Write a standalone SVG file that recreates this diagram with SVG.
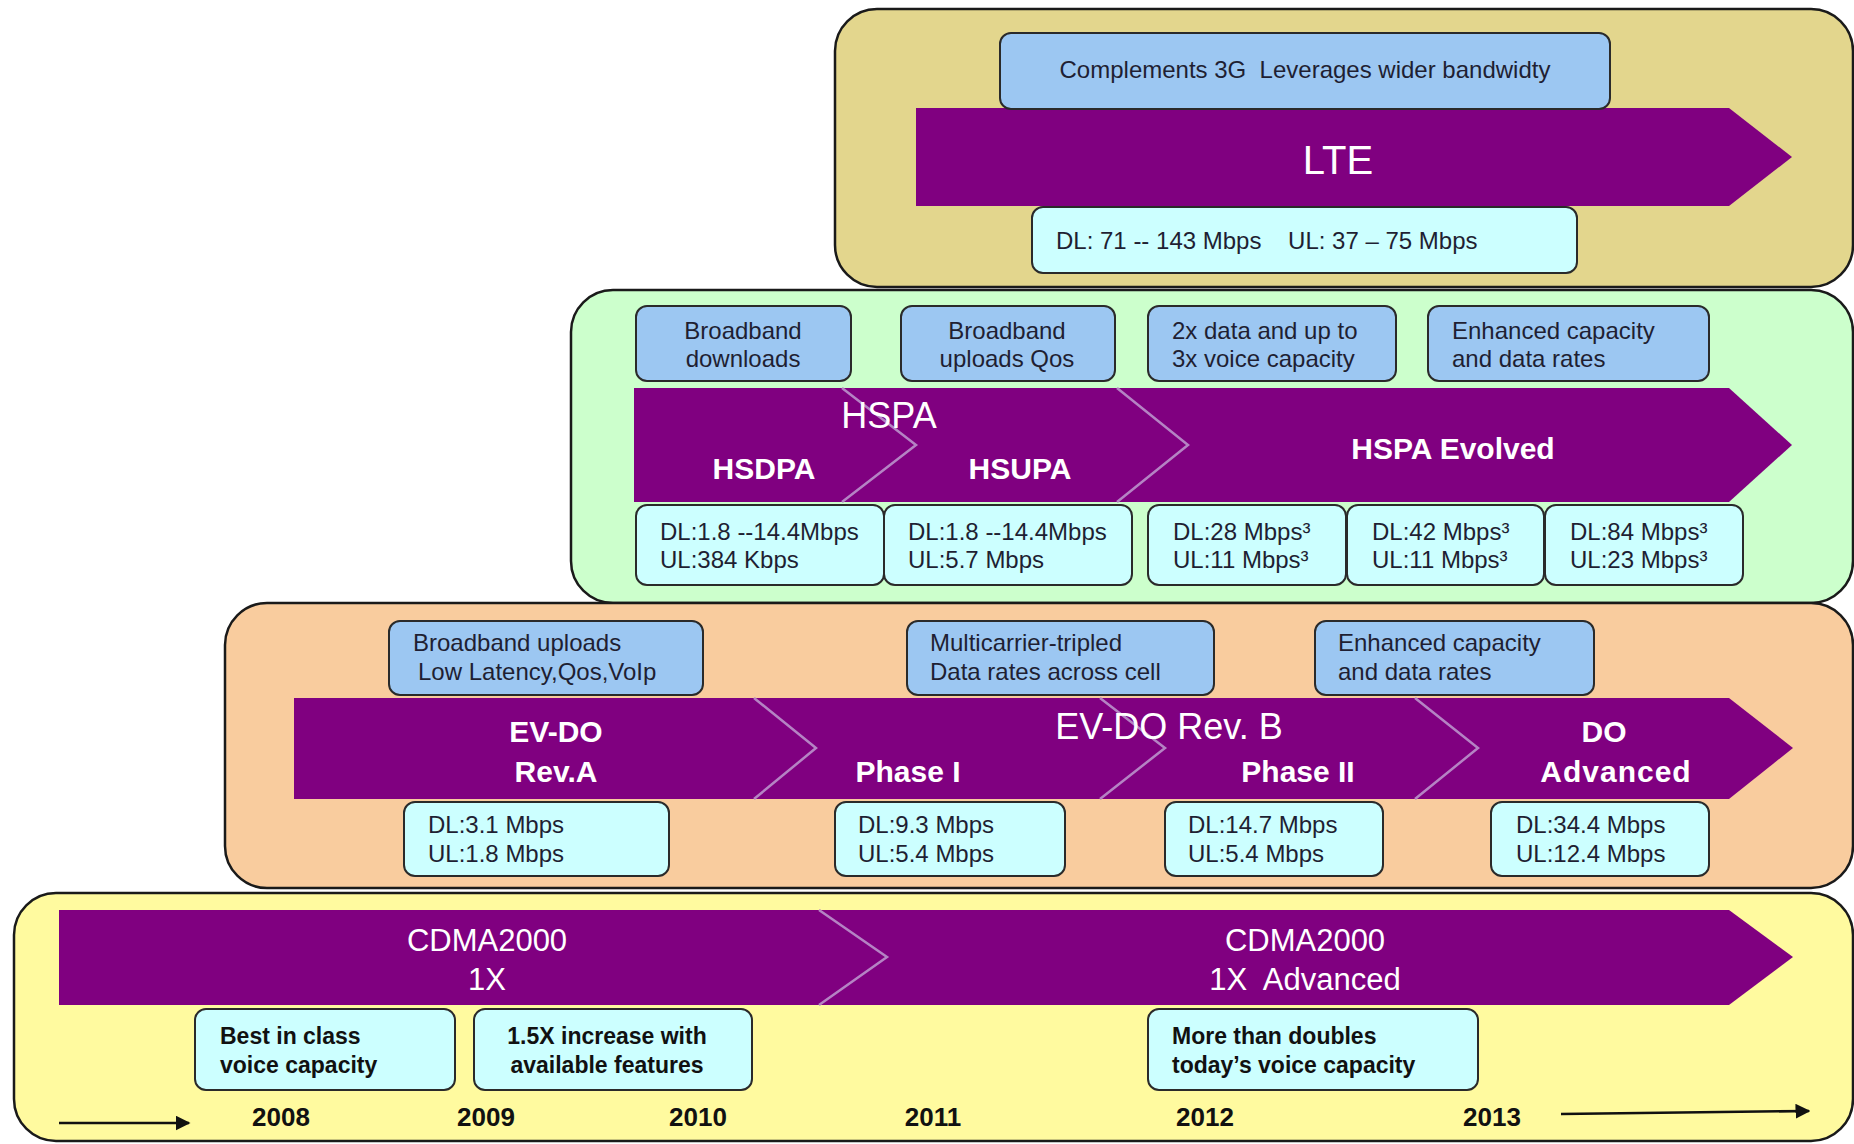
<svg xmlns="http://www.w3.org/2000/svg" width="1854" height="1144" viewBox="0 0 1854 1144">
<defs>
<style>
.panel{stroke:#1a1a1a;stroke-width:2.5}
.arrow{fill:#800080}
.chev{fill:none;stroke:#B583C4;stroke-width:2.5}
.bbox{fill:#9CC7F2;stroke:#2a2a2a;stroke-width:2}
.cbox{fill:#CCFFFF;stroke:#2a2a2a;stroke-width:2}
.t{font-family:"Liberation Sans",Arial,sans-serif;font-size:24px;fill:#1f1f33}
.tb{font-family:"Liberation Sans",Arial,sans-serif;font-size:23px;font-weight:bold;fill:#111}
.w{font-family:"Liberation Sans",Arial,sans-serif;fill:#fff;text-anchor:middle}
.wb{font-family:"Liberation Sans",Arial,sans-serif;fill:#fff;text-anchor:middle;font-weight:bold;font-size:30px}
.yr{font-family:"Liberation Sans",Arial,sans-serif;font-size:26px;font-weight:bold;fill:#111;text-anchor:middle}
.mid{text-anchor:middle}
</style>
<marker id="ah" viewBox="0 0 10 10" refX="9" refY="5" markerWidth="6" markerHeight="6" orient="auto">
<path d="M0,0 L10,5 L0,10 z" fill="#111"/>
</marker>
</defs>

<!-- Panels -->
<g id="panel-lte"><rect class="panel" x="835" y="9" width="1018" height="278" rx="42" fill="#E3D68D"/></g>
<g id="panel-hspa"><rect class="panel" x="571" y="290" width="1282" height="313" rx="42" fill="#CCFFCC"/></g>
<g id="panel-evdo"><rect class="panel" x="225" y="603" width="1628" height="285" rx="42" fill="#F9CC9E"/></g>
<g id="panel-cdma"><rect class="panel" x="14" y="893" width="1839" height="248" rx="42" fill="#FFFA9F"/></g>

<!-- LTE -->
<g id="lte-arrow">
<polygon class="arrow" points="916,108 1729,108 1792,157 1729,206 916,206"/>
<text class="w" x="1338" y="174" font-size="40">LTE</text>
</g>
<g id="lte-note"><rect class="bbox" x="1000" y="33" width="610" height="76" rx="11"/>
<text class="t mid" x="1305" y="78" xml:space="preserve">Complements 3G  Leverages wider bandwidty</text></g>
<g id="lte-rate"><rect class="cbox" x="1032" y="207" width="545" height="66" rx="11"/>
<text class="t" x="1056" y="249" xml:space="preserve">DL: 71 -- 143 Mbps    UL: 37 – 75 Mbps</text></g>

<!-- HSPA -->
<g id="hspa-arrow">
<polygon class="arrow" points="634,388 1729,388 1792,445 1729,502 634,502"/>
<polyline class="chev" points="842,388 916,445 842,502"/>
<polyline class="chev" points="1117,388 1188,445 1117,502"/>
<text class="w" x="889" y="428" font-size="36">HSPA</text>
<text class="wb" x="764" y="479">HSDPA</text>
<text class="wb" x="1020" y="479">HSUPA</text>
<text class="wb" x="1453" y="459" font-size="29">HSPA Evolved</text>
</g>
<g id="hspa-note1"><rect class="bbox" x="636" y="306" width="215" height="75" rx="11"/>
<text class="t mid" x="743" y="339">Broadband</text><text class="t mid" x="743" y="367">downloads</text></g>
<g id="hspa-note2"><rect class="bbox" x="901" y="306" width="214" height="75" rx="11"/>
<text class="t mid" x="1007" y="339">Broadband</text><text class="t mid" x="1007" y="367">uploads Qos</text></g>
<g id="hspa-note3"><rect class="bbox" x="1148" y="306" width="248" height="75" rx="11"/>
<text class="t" x="1172" y="339">2x data and up to</text><text class="t" x="1172" y="367">3x voice capacity</text></g>
<g id="hspa-note4"><rect class="bbox" x="1428" y="306" width="281" height="75" rx="11"/>
<text class="t" x="1452" y="339">Enhanced capacity</text><text class="t" x="1452" y="367">and data rates</text></g>
<g id="hspa-rate1"><rect class="cbox" x="636" y="505" width="248" height="80" rx="11"/>
<text class="t" x="660" y="540">DL:1.8 --14.4Mbps</text><text class="t" x="660" y="568">UL:384 Kbps</text></g>
<g id="hspa-rate2"><rect class="cbox" x="884" y="505" width="248" height="80" rx="11"/>
<text class="t" x="908" y="540">DL:1.8 --14.4Mbps</text><text class="t" x="908" y="568">UL:5.7 Mbps</text></g>
<g id="hspa-rate3"><rect class="cbox" x="1148" y="505" width="198" height="80" rx="11"/>
<text class="t" x="1173" y="540">DL:28 Mbps³</text><text class="t" x="1173" y="568">UL:11 Mbps³</text></g>
<g id="hspa-rate4"><rect class="cbox" x="1347" y="505" width="197" height="80" rx="11"/>
<text class="t" x="1372" y="540">DL:42 Mbps³</text><text class="t" x="1372" y="568">UL:11 Mbps³</text></g>
<g id="hspa-rate5"><rect class="cbox" x="1545" y="505" width="198" height="80" rx="11"/>
<text class="t" x="1570" y="540">DL:84 Mbps³</text><text class="t" x="1570" y="568">UL:23 Mbps³</text></g>

<!-- EV-DO -->
<g id="evdo-arrow">
<polygon class="arrow" points="294,698 1729,698 1793,748 1729,799 294,799"/>
<polyline class="chev" points="754,698 816,748 754,799"/>
<polyline class="chev" points="1100,698 1165,748 1100,799"/>
<polyline class="chev" points="1415,698 1478,748 1415,799"/>
<text class="wb" x="556" y="742">EV-DO</text>
<text class="wb" x="556" y="782">Rev.A</text>
<text class="wb" x="908" y="782">Phase I</text>
<text class="w" x="1169" y="739" font-size="36">EV-DO Rev. B</text>
<text class="wb" x="1298" y="782">Phase II</text>
<text class="wb" x="1604" y="742">DO</text>
<text class="wb" x="1616" y="782" letter-spacing="1">Advanced</text>
</g>
<g id="evdo-note1"><rect class="bbox" x="389" y="621" width="314" height="74" rx="11"/>
<text class="t" x="413" y="651">Broadband uploads</text><text class="t" x="418" y="680">Low Latency,Qos,VoIp</text></g>
<g id="evdo-note2"><rect class="bbox" x="907" y="621" width="307" height="74" rx="11"/>
<text class="t" x="930" y="651">Multicarrier-tripled</text><text class="t" x="930" y="680">Data rates across cell</text></g>
<g id="evdo-note3"><rect class="bbox" x="1315" y="621" width="279" height="74" rx="11"/>
<text class="t" x="1338" y="651">Enhanced capacity</text><text class="t" x="1338" y="680">and data rates</text></g>
<g id="evdo-rate1"><rect class="cbox" x="404" y="802" width="265" height="74" rx="11"/>
<text class="t" x="428" y="833">DL:3.1 Mbps</text><text class="t" x="428" y="862">UL:1.8 Mbps</text></g>
<g id="evdo-rate2"><rect class="cbox" x="835" y="802" width="230" height="74" rx="11"/>
<text class="t" x="858" y="833">DL:9.3 Mbps</text><text class="t" x="858" y="862">UL:5.4 Mbps</text></g>
<g id="evdo-rate3"><rect class="cbox" x="1165" y="802" width="218" height="74" rx="11"/>
<text class="t" x="1188" y="833">DL:14.7 Mbps</text><text class="t" x="1188" y="862">UL:5.4 Mbps</text></g>
<g id="evdo-rate4"><rect class="cbox" x="1491" y="802" width="218" height="74" rx="11"/>
<text class="t" x="1516" y="833">DL:34.4 Mbps</text><text class="t" x="1516" y="862">UL:12.4 Mbps</text></g>

<!-- CDMA -->
<g id="cdma-arrow">
<polygon class="arrow" points="59,910 1729,910 1793,957 1729,1005 59,1005"/>
<polyline class="chev" points="819,910 887,957 819,1005"/>
<text class="w" x="487" y="951" font-size="31">CDMA2000</text>
<text class="w" x="487" y="990" font-size="31">1X</text>
<text class="w" x="1305" y="951" font-size="31">CDMA2000</text>
<text class="w" x="1305" y="990" font-size="31" xml:space="preserve">1X  Advanced</text>
</g>
<g id="cdma-note1"><rect class="cbox" x="195" y="1009" width="260" height="81" rx="11"/>
<text class="tb" x="220" y="1044">Best in class</text><text class="tb" x="220" y="1073">voice capacity</text></g>
<g id="cdma-note2"><rect class="cbox" x="474" y="1009" width="278" height="81" rx="11"/>
<text class="tb mid" x="607" y="1044">1.5X increase with</text><text class="tb mid" x="607" y="1073">available features</text></g>
<g id="cdma-note3"><rect class="cbox" x="1148" y="1009" width="330" height="81" rx="11"/>
<text class="tb" x="1172" y="1044">More than doubles</text><text class="tb" x="1172" y="1073">today’s voice capacity</text></g>

<!-- Years -->
<g id="years">
<text class="yr" x="281" y="1126">2008</text>
<text class="yr" x="486" y="1126">2009</text>
<text class="yr" x="698" y="1126">2010</text>
<text class="yr" x="933" y="1126">2011</text>
<text class="yr" x="1205" y="1126">2012</text>
<text class="yr" x="1492" y="1126">2013</text>
</g>

<!-- Connectors -->
<g id="connectors" stroke="#111" stroke-width="2.5" fill="none">
<line x1="59" y1="1123" x2="189" y2="1123" marker-end="url(#ah)"/>
<line x1="1561" y1="1114" x2="1809" y2="1111" marker-end="url(#ah)"/>
</g>
</svg>
